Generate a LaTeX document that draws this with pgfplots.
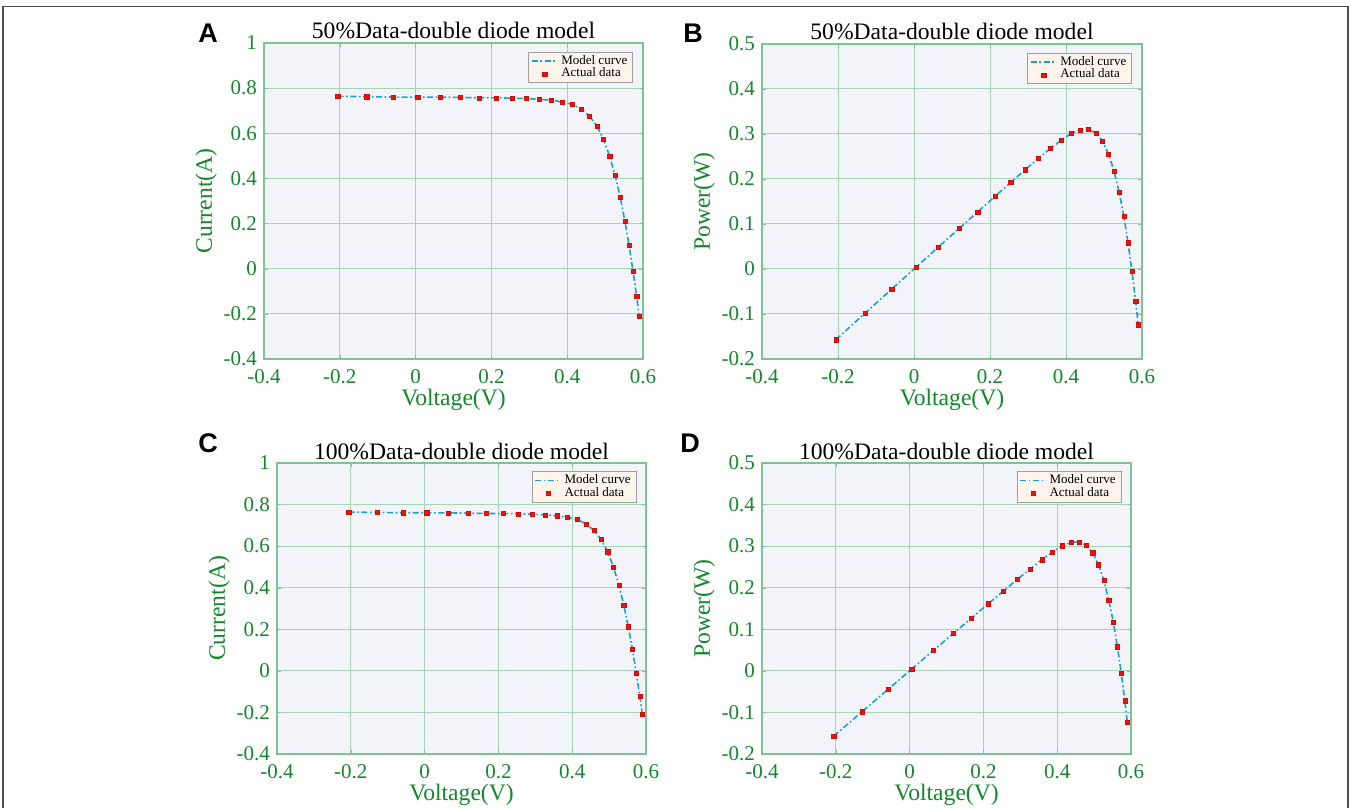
\documentclass[border=0pt]{standalone}
\usepackage{pgfplots}
\pgfplotsset{compat=1.18}
\usepackage{pgfplotstable}
\usepackage{fontspec}
\setmainfont{Liberation Serif}
\newfontfamily\panelfont{Liberation Sans}

\definecolor{axbg}{RGB}{242,244,249}
\definecolor{gridgreen}{RGB}{165,215,182}
\definecolor{boxgreen}{RGB}{125,195,148}
\definecolor{txtgreen}{RGB}{20,135,45}
\definecolor{modelblue}{RGB}{25,160,215}
\definecolor{datared}{RGB}{245,15,10}
\definecolor{legbg}{RGB}{253,245,236}

% measured I-V points (V in volts, I in amps, P = V*I in watts)
\pgfplotstableread{
V       I       P
-0.2057 0.7640 -0.15715
-0.1291 0.7620 -0.09837
-0.0588 0.7605 -0.04472
0.0057  0.7605  0.00434
0.0646  0.7600  0.04910
0.1185  0.7590  0.08994
0.1678  0.7570  0.12702
0.2132  0.7570  0.16139
0.2545  0.7555  0.19227
0.2924  0.7540  0.22047
0.3269  0.7505  0.24534
0.3585  0.7465  0.26762
0.3873  0.7385  0.28602
0.4137  0.7280  0.30117
0.4373  0.7065  0.30895
0.4590  0.6755  0.31006
0.4784  0.6320  0.30235
0.4960  0.5730  0.28421
0.5119  0.4990  0.25544
0.5265  0.4130  0.21745
0.5398  0.3165  0.17085
0.5521  0.2120  0.11705
0.5633  0.1035  0.05830
0.5736 -0.0100 -0.00574
0.5833 -0.1230 -0.07175
0.5900 -0.2100 -0.12390
}\ivdata

\pgfplotsset{
  panel/.style={
    scale only axis,
    anchor=north west,
    xmin=-0.4, xmax=0.6,
    xtick={-0.4,-0.2,0,0.2,0.4,0.6},
    xticklabels={-0.4,-0.2,0,0.2,0.4,0.6},
    grid=major,
    major grid style={gridgreen, line width=0.5pt},
    axis line style={boxgreen, line width=0.7pt},
    tick style={boxgreen},
    major tick length=2pt,
    tick align=inside,
    axis background/.style={fill=axbg},
    ticklabel style={font=\fontsize{10.5}{12}\selectfont, text=txtgreen},
    xticklabel style={yshift=-1.5pt},
    label style={font=\fontsize{11.8}{13}\selectfont, text=txtgreen},
    xlabel shift=-4pt,
    ylabel shift=-3.5pt,
    title style={font=\fontsize{11.8}{13}\selectfont,
      at={(axis description cs:0.5,1)}, anchor=base, yshift=-3.6pt},
    xlabel={Voltage(V)},
    legend style={at={(0.974,0.972)}, anchor=north east, fill=legbg,
      draw=gray!75, font=\fontsize{6.5}{7}\selectfont, inner sep=1.2pt,
      row sep=0pt, cells={anchor=west},
      nodes={inner ysep=0.2pt, inner xsep=1.5pt}},
  },
  ivaxis/.style={ymin=-0.4, ymax=1,
    ytick={-0.4,-0.2,0,0.2,0.4,0.6,0.8,1},
    yticklabels={-0.4,-0.2,0,0.2,0.4,0.6,0.8,1},
    ylabel={Current(A)}},
  pvaxis/.style={ymin=-0.2, ymax=0.5,
    ytick={-0.2,-0.1,0,0.1,0.2,0.3,0.4,0.5},
    yticklabels={-0.2,-0.1,0,0.1,0.2,0.3,0.4,0.5},
    ylabel={Power(W)}},
  modelline/.style={modelblue, line width=0.8pt,
    dash pattern=on 3pt off 1.3pt on 0.8pt off 1.3pt,
    legend image code/.code={\draw[##1] (0cm,0cm) -- (0.45cm,0cm);}},
  datamarks/.style={only marks, mark=square*, mark size=1.05pt,
    mark options={fill=datared, draw=datared!85!black, line width=0.2pt, solid},
    legend image code/.code={\draw[##1] plot coordinates {(0.225cm,0cm)};}},
}

\begin{document}
\begin{tikzpicture}
\useasboundingbox (0pt,0pt) rectangle (675.5pt,-404pt);
\draw[gray!60!black, line width=0.9pt] (1.5pt,-404pt) -- (1.5pt,-3.3pt) -- (674pt,-3.3pt) -- (674pt,-404pt);

% A
\begin{axis}[panel, ivaxis, at={(132pt,-21.5pt)}, width=189.5pt, height=158pt,
  title={50\%Data-double diode model}]
\addplot[modelline] table[x=V, y=I] {\ivdata};
\addplot[datamarks] table[x=V, y=I] {\ivdata};
\legend{Model curve, Actual data}
\end{axis}

% B
\begin{axis}[panel, pvaxis, at={(381pt,-22pt)}, width=190pt, height=157.5pt,
  title={50\%Data-double diode model}]
\addplot[modelline] table[x=V, y=P] {\ivdata};
\addplot[datamarks] table[x=V, y=P] {\ivdata};
\legend{Model curve, Actual data}
\end{axis}

% C
\begin{axis}[panel, ivaxis, at={(138.5pt,-231.5pt)}, width=184.5pt, height=145.5pt,
  title={100\%Data-double diode model}, title style={yshift=-0.4pt}]
\addplot[modelline] table[x=V, y=I] {\ivdata};
\addplot[datamarks] table[x=V, y=I] {\ivdata};
\legend{Model curve, Actual data}
\end{axis}

% D
\begin{axis}[panel, pvaxis, at={(381pt,-231.5pt)}, width=184.5pt, height=145.5pt,
  title={100\%Data-double diode model}, title style={yshift=-0.4pt}]
\addplot[modelline] table[x=V, y=P] {\ivdata};
\addplot[datamarks] table[x=V, y=P] {\ivdata};
\legend{Model curve, Actual data}
\end{axis}

\begin{scope}[every node/.style={anchor=base west, inner sep=0pt,
    font=\panelfont\bfseries\fontsize{13.5}{15}\selectfont}]
\node at (99pt,-21.5pt) {A};
\node at (341.5pt,-21.5pt) {B};
\node at (99pt,-226pt) {C};
\node at (340pt,-226pt) {D};
\end{scope}
\end{tikzpicture}
\end{document}
